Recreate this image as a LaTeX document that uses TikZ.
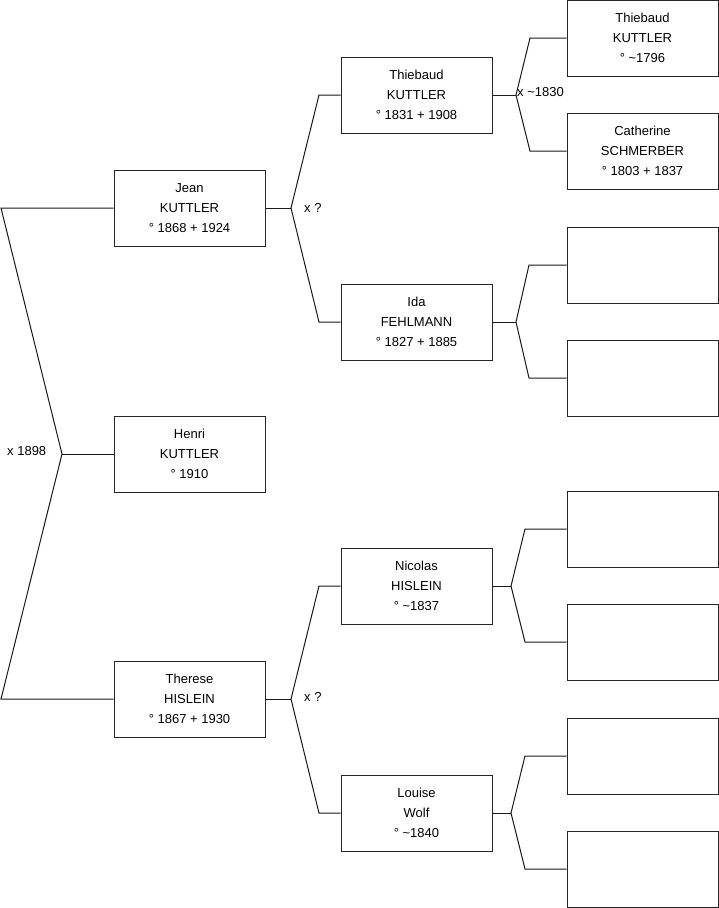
\documentclass[tikz,border=0pt]{standalone}
\usepackage{fontspec}
\setmainfont{Liberation Sans}
\begin{document}
\begin{tikzpicture}[x=1pt,y=-1pt,
  person/.style={draw=black!85, line width=1pt, fill=white, rectangle, minimum width=151pt, minimum height=76pt, inner sep=0pt, align=center, font=\fontsize{13pt}{20pt}\selectfont},
  link/.style={draw=black!90, line width=1pt},
  marr/.style={anchor=west, inner sep=0pt, font=\fontsize{13pt}{15pt}\selectfont}]
\useasboundingbox (0,0) rectangle (719,908);
% generation 1
\node[person] (jean) at (189.5,208) {Jean\\KUTTLER\\° 1868 + 1924};
\node[person] (henri) at (189.5,454) {Henri\\KUTTLER\\° 1910};
\node[person] (therese) at (189.5,699) {Therese\\HISLEIN\\° 1867 + 1930};
% generation 2
\node[person] (thiebaud) at (416.5,95) {Thiebaud\\KUTTLER\\° 1831 + 1908};
\node[person] (ida) at (416.5,322) {Ida\\FEHLMANN\\° 1827 + 1885};
\node[person] (nicolas) at (416.5,586) {Nicolas\\HISLEIN\\° \textasciitilde 1837};
\node[person] (louise) at (416.5,813) {Louise\\Wolf\\° \textasciitilde 1840};
% generation 3
\node[person] (thiebaudp) at (642.5,38) {Thiebaud\\KUTTLER\\° \textasciitilde 1796};
\node[person] (catherine) at (642.5,151) {Catherine\\SCHMERBER\\° 1803 + 1837};
\node[person] (e1) at (642.5,265) {};
\node[person] (e2) at (642.5,378) {};
\node[person] (e3) at (642.5,529) {};
\node[person] (e4) at (642.5,642) {};
\node[person] (e5) at (642.5,756) {};
\node[person] (e6) at (642.5,869) {};
% branch points
\coordinate (b0) at (62,454);
\coordinate (b0u) at (1,208);
\coordinate (b0d) at (1,699);
\coordinate (b1) at (291,208);
\coordinate (b1u) at (319,95);
\coordinate (b1d) at (319,322);
\coordinate (b2) at (291,699);
\coordinate (b2u) at (319,586);
\coordinate (b2d) at (319,813);
\coordinate (c1) at (516,95);
\coordinate (c1u) at (530,38);
\coordinate (c1d) at (530,151);
\coordinate (c2) at (516,322);
\coordinate (c2u) at (529,265);
\coordinate (c2d) at (529,378);
\coordinate (c3) at (511,586);
\coordinate (c3u) at (525,529);
\coordinate (c3d) at (525,642);
\coordinate (c4) at (511,813);
\coordinate (c4u) at (525,756);
\coordinate (c4d) at (525,869);
% connectors
\draw[link] (henri.west) -- (b0);
\draw[link] (jean.west) -- (b0u) -- (b0) -- (b0d) -- (therese.west);
\draw[link] (jean.east) -- (b1);
\draw[link] (thiebaud.west) -- (b1u) -- (b1) -- (b1d) -- (ida.west);
\draw[link] (therese.east) -- (b2);
\draw[link] (nicolas.west) -- (b2u) -- (b2) -- (b2d) -- (louise.west);
\draw[link] (thiebaud.east) -- (c1);
\draw[link] (thiebaudp.west) -- (c1u) -- (c1) -- (c1d) -- (catherine.west);
\draw[link] (ida.east) -- (c2);
\draw[link] (e1.west) -- (c2u) -- (c2) -- (c2d) -- (e2.west);
\draw[link] (nicolas.east) -- (c3);
\draw[link] (e3.west) -- (c3u) -- (c3) -- (c3d) -- (e4.west);
\draw[link] (louise.east) -- (c4);
\draw[link] (e5.west) -- (c4u) -- (c4) -- (c4d) -- (e6.west);
% marriage labels
\node[marr] (m0) at (7,451) {x 1898};
\node[marr] (m1) at (304,208) {x ?};
\node[marr] (m2) at (304,697) {x ?};
\node[marr] (m3) at (517,92) {x \textasciitilde 1830};
\end{tikzpicture}
\end{document}
